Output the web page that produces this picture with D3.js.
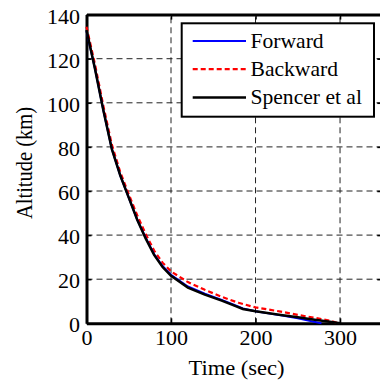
<!DOCTYPE html>
<html><head><meta charset="utf-8">
<script src="https://cdn.jsdelivr.net/npm/d3@7"></script>
</head><body style="margin:0">
<svg id="c" width="380" height="381"></svg>
<script>
const xTicks = [0, 100, 200, 300];
const yTicks = [0, 20, 40, 60, 80, 100, 120, 140];
const spencerT = [0, 10, 20, 30, 40, 50, 60, 70, 80, 90, 100, 120, 140, 160, 175, 185, 200, 230, 250, 270, 290, 300];
const spencerA = [133, 115.5, 96.5, 79, 67, 57, 47, 38.5, 31, 25.5, 21.5, 16.2, 13, 10.3, 8, 6.5, 5.5, 3.8, 2.7, 1.6, 0.6, 0];
const forwardT = [0, 10, 20, 30, 40, 50, 60, 70, 80, 90, 100, 120, 140, 160, 175, 185, 200, 230, 250, 265, 278];
const forwardA = [132.5, 115.5, 96.5, 79, 67, 57, 47, 38.8, 31.3, 26, 22, 16.7, 13.4, 10.6, 8.3, 6.7, 5.5, 3.6, 2.3, 1.0, 0];
const backwardT = [0, 10, 20, 30, 40, 50, 60, 70, 80, 90, 100, 120, 140, 160, 180, 200, 230, 250, 270, 290, 298];
const backwardA = [134.5, 117.5, 98.5, 81, 68.5, 58.5, 49, 40.5, 33, 27.5, 23.5, 18.7, 15.2, 12, 9.3, 7.2, 5.3, 3.8, 2.5, 1.0, 0];
const seriesNames = ["Forward", "Backward", "Spencer et al"];

const svg = d3.select("#c");
const x = d3.scaleLinear().domain([0, 350]).range([86.5, 382.3]);
const y = d3.scaleLinear().domain([0, 140]).range([323.3, 14.6]);
const font = '"Liberation Serif"';
const sx = 1.1;

// grid
const grid = svg.append("g").attr("stroke", "#222").attr("stroke-width", 1).attr("stroke-dasharray", "6,4");
grid.selectAll(".gx").data(xTicks.filter(d => d > 0)).join("line")
  .attr("x1", d => x(d)).attr("x2", d => x(d)).attr("y1", y(0)).attr("y2", y(140));
grid.selectAll(".gy").data(yTicks.filter(d => d > 0 && d < 140)).join("line")
  .attr("y1", d => y(d)).attr("y2", d => y(d)).attr("x1", x(0)).attr("x2", x(350));

// axes (box, inward ticks)
const tl = -5;
const ax = svg.append("g").attr("transform", `translate(0,${y(0)})`)
  .call(d3.axisBottom(x).tickValues(xTicks).tickSizeInner(tl).tickSizeOuter(0));
const axT = svg.append("g").attr("transform", `translate(0,${y(140)})`)
  .call(d3.axisTop(x).tickValues(xTicks).tickSizeInner(tl).tickSizeOuter(0).tickFormat(""));
const ay = svg.append("g").attr("transform", `translate(${x(0)},0)`)
  .call(d3.axisLeft(y).tickValues(yTicks).tickSizeInner(tl).tickSizeOuter(0));
const ayR = svg.append("g").attr("transform", `translate(${x(350)},0)`)
  .call(d3.axisRight(y).tickValues(yTicks).tickSizeInner(tl).tickSizeOuter(0).tickFormat(""));
[ax, axT, ay, ayR].forEach(g => {
  g.attr("font-family", null);
  g.select(".domain").attr("stroke", "#000").attr("stroke-width", 3);
  g.selectAll(".tick line").attr("stroke", "#000").attr("stroke-width", 1.5);
  g.selectAll(".tick text").style("font-family", font).attr("font-size", 20).attr("fill", "#000");
});
ax.selectAll(".tick text").attr("y", 0).attr("dy", 0)
  .attr("transform", `translate(0,22) scale(${sx},1)`);
ay.selectAll(".tick text").attr("x", 0).attr("dy", "0.42em")
  .attr("transform", `translate(-6.5,0) scale(${sx},1)`);

// lines
const line = d3.line().x(d => x(d[0])).y(d => y(d[1]));
const zip = (a, b) => a.map((v, i) => [v, b[i]]);
svg.append("path").datum(zip(backwardT, backwardA)).attr("d", line)
  .attr("fill", "none").attr("stroke", "#ff0000").attr("stroke-width", 2.2).attr("stroke-dasharray", "5,3");
svg.append("path").datum(zip(forwardT, forwardA)).attr("d", line)
  .attr("fill", "none").attr("stroke", "#0000ff").attr("stroke-width", 2);
svg.append("path").datum(zip(spencerT, spencerA)).attr("d", line)
  .attr("fill", "none").attr("stroke", "#000").attr("stroke-width", 2.5);

// axis labels
svg.append("text").attr("transform", `translate(236.5,374.5) scale(${sx},1)`).attr("text-anchor", "middle")
  .style("font-family", font).attr("font-size", 20.5).text("Time (sec)");
svg.append("text").attr("transform", `translate(32,163) scale(${sx},1) rotate(-90)`).attr("text-anchor", "middle")
  .style("font-family", font).attr("font-size", 20.5).text("Altitude (km)");

// legend
const lg = svg.append("g");
lg.append("rect").attr("x", 181.7).attr("y", 23.3).attr("width", 192.3).attr("height", 93.4)
  .attr("fill", "#fff").attr("stroke", "#000").attr("stroke-width", 2);
const lstyles = [
  {c: "#0000ff", w: 2, da: null},
  {c: "#ff0000", w: 2.2, da: "5,3"},
  {c: "#000", w: 2.5, da: null}
];
seriesNames.forEach((n, i) => {
  const yy = 41 + i * 28.2;
  lg.append("line").attr("x1", 192.7).attr("x2", 246).attr("y1", yy).attr("y2", yy)
    .attr("stroke", lstyles[i].c).attr("stroke-width", lstyles[i].w).attr("stroke-dasharray", lstyles[i].da);
  lg.append("text").attr("transform", `translate(250.5,${yy + 7}) scale(1.08,1)`)
    .style("font-family", font).attr("font-size", 20).text(n);
});
</script>
</body></html>
